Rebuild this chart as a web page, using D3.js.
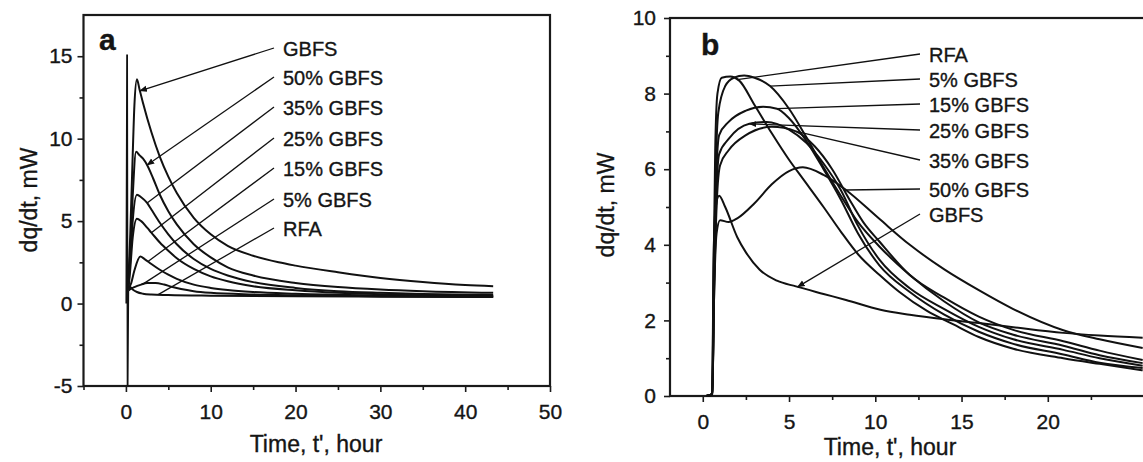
<!DOCTYPE html>
<html>
<head>
<meta charset="utf-8">
<script src="https://cdn.jsdelivr.net/npm/d3@7"></script>
<style>
  html, body { margin: 0; padding: 0; background: #fff; overflow: hidden; }
  svg { display: block; }
  text { font-family: "Liberation Sans", Arial, sans-serif; fill: #151515; stroke: #151515; stroke-width: 0.35px; }
</style>
</head>
<body>
<svg id="chart" width="1143" height="462"></svg>
<script>
// ---------- Panel a: heat flow, first 43 h ----------
const seriesA = ["GBFS", "50% GBFS", "35% GBFS", "25% GBFS", "15% GBFS", "5% GBFS", "RFA"];
const a_GBFS = [[0.3,1.5],[0.5,4],[0.8,9],[1.0,12],[1.3,13.6],[1.6,13.0],[2,12.2],[3,10.4],[4,8.9],[5,7.7],[6,6.7],[8,5.2],[10,4.2],[12,3.5],[15,2.9],[18,2.5],[20,2.3],[25,1.9],[30,1.55],[35,1.3],[40,1.12],[43.3,1.05]];
const a_50 = [[0.3,1.2],[0.5,3],[0.8,6.5],[1.2,9.2],[1.6,9.0],[2,8.8],[2.5,8.4],[3.2,7.6],[4,6.6],[5,5.6],[6,4.8],[8,3.6],[10,2.8],[12,2.2],[15,1.7],[20,1.25],[25,1.0],[30,0.85],[35,0.75],[43.3,0.65]];
const a_35 = [[0.3,1.0],[0.5,2.5],[0.8,5],[1.3,6.6],[1.8,6.45],[2.5,6.1],[3,5.7],[4,4.9],[5,4.2],[6,3.6],[8,2.7],[10,2.1],[12,1.7],[15,1.3],[20,0.95],[25,0.75],[30,0.65],[35,0.58],[43.3,0.52]];
const a_25 = [[0.3,0.9],[0.5,2],[0.8,4],[1.3,5.15],[1.8,5.0],[2.5,4.6],[3,4.3],[4,3.7],[5,3.2],[6,2.75],[8,2.1],[10,1.65],[12,1.35],[15,1.05],[20,0.8],[25,0.65],[30,0.57],[43.3,0.48]];
const a_15 = [[0.3,0.9],[0.6,1.2],[1.0,2.0],[1.7,2.85],[2.2,2.7],[3,2.4],[4,2.05],[5,1.75],[6,1.5],[8,1.15],[10,0.95],[12,0.82],[15,0.7],[20,0.6],[30,0.5],[43.3,0.45]];
const a_5 = [[0.3,0.8],[0.6,0.9],[1.0,1.0],[1.8,1.15],[2.5,1.25],[3.5,1.25],[4.5,1.15],[5.5,1.0],[6.5,0.88],[8,0.75],[10,0.65],[15,0.55],[20,0.5],[30,0.45],[43.3,0.4]];
const a_RFA = [[0.3,0.8],[0.5,1.0],[0.8,0.85],[1.3,0.7],[2,0.6],[3,0.55],[5,0.52],[10,0.48],[20,0.44],[30,0.42],[43.3,0.4]];
const a_wetting = [[0.05,0],[0.14,15.1],[0.2,-5],[0.28,0.8]];
const curvesA = [a_GBFS, a_50, a_35, a_25, a_15, a_5, a_RFA];
// time on each curve that its label points to
const pointerTimesA = [1.65, 2.5, 2.5, 3.0, 2.6, 2.0, 3.8];
const xTicksA = [0, 10, 20, 30, 40, 50];
const yTicksA = [-5, 0, 5, 10, 15];

// ---------- Panel b: heat flow, first 24 h ----------
const seriesB = ["RFA", "5% GBFS", "15% GBFS", "25% GBFS", "35% GBFS", "50% GBFS", "GBFS"];
const b_RFA = [[0.2,0],[0.55,0.05],[0.62,3],[0.72,6.5],[0.85,8.0],[1.1,8.42],[1.6,8.45],[2.1,8.35],[3,7.7],[4,6.95],[5,6.25],[5.8,5.75],[7,5.0],[8,4.35],[9,3.75],[10.25,3.2],[11.4,2.75],[13,2.25],[14.5,1.9],[16,1.56],[18,1.25],[20.9,1.0],[23,0.85],[25.5,0.68]];
const b_5 = [[0.2,0],[0.55,0.05],[0.63,3],[0.75,6],[0.9,7.5],[1.3,8.2],[1.8,8.42],[2.4,8.48],[3,8.42],[3.9,8.2],[5,7.6],[6,6.85],[7,6.05],[8,5.3],[9,4.6],[10.25,3.95],[12,3.2],[14,2.5],[16,1.95],[18,1.62],[20.9,1.33],[23,1.08],[25.5,0.87]];
const b_15 = [[0.2,0],[0.55,0.05],[0.65,3],[0.78,5.8],[0.95,6.9],[1.5,7.25],[2.5,7.55],[3.5,7.65],[4.3,7.6],[5,7.35],[6,6.75],[7,6.0],[8,5.2],[9,4.3],[10.25,3.45],[12,2.75],[14,2.15],[16,1.7],[18,1.38],[20.9,1.1],[23,0.88],[25.5,0.74]];
const b_25 = [[0.2,0],[0.55,0.05],[0.66,3],[0.8,5.5],[0.95,6.4],[1.5,6.8],[2.7,7.2],[3.7,7.25],[5,7.05],[6,6.7],[7,6.15],[8,5.45],[9,4.5],[10.25,3.6],[12,2.85],[14,2.3],[16,1.83],[18,1.5],[20.9,1.22],[23,1.0],[25.5,0.8]];
const b_35 = [[0.2,0],[0.55,0.05],[0.67,3],[0.82,5.2],[1.0,6.1],[1.5,6.5],[2.5,6.9],[4,7.12],[5.4,7.0],[6.5,6.6],[7.5,6.0],[8.5,5.2],[9.3,4.6],[10.25,4.08],[12,3.2],[14,2.6],[16,2.1],[18,1.75],[20.9,1.45],[23,1.2],[25.5,0.95]];
const b_50 = [[0.2,0],[0.55,0.05],[0.65,2.5],[0.8,4.3],[1.0,4.65],[1.5,4.6],[2,4.7],[3,5.1],[4,5.6],[5,5.95],[5.8,6.05],[7,5.85],[8.3,5.45],[10.2,4.7],[12,4.0],[14,3.35],[16,2.8],[18,2.3],[20.9,1.74],[23,1.5],[25.5,1.27]];
const b_GBFS = [[0.2,0],[0.55,0.05],[0.62,3.5],[0.75,5.0],[0.95,5.3],[1.3,5.0],[2,4.2],[2.5,3.8],[3.3,3.34],[4.3,3.05],[5.4,2.9],[7,2.7],[8.3,2.54],[10.3,2.28],[12,2.15],[14,2.03],[16,1.93],[18,1.82],[20.9,1.67],[23,1.6],[25.5,1.54]];
const curvesB = [b_RFA, b_5, b_15, b_25, b_35, b_50, b_GBFS];
const pointerTimesB = [2.0, 3.9, 4.3, 2.7, 5.4, 8.3, 5.5];
const xTicksB = [0, 5, 10, 15, 20];
const yTicksB = [0, 2, 4, 6, 8, 10];

const svg = d3.select("#chart");
const defs = svg.append("defs");
defs.append("marker")
  .attr("id", "head").attr("viewBox", "0 0 10 10").attr("refX", 9).attr("refY", 5)
  .attr("markerWidth", 6).attr("markerHeight", 6).attr("orient", "auto-start-reverse")
  .append("path").attr("d", "M0,1 L10,5 L0,9 z").attr("fill", "#111");

// value of a curve at time t (linear between stored points)
function valueAt(curve, t) {
  const i = d3.bisector(d => d[0]).left(curve, t);
  if (i <= 0) return curve[0][1];
  if (i >= curve.length) return curve[curve.length - 1][1];
  const [t0, v0] = curve[i - 1], [t1, v1] = curve[i];
  return v0 + (v1 - v0) * (t - t0) / (t1 - t0);
}

// plain hyphen for negatives, as on the printed axes
const plainInt = d => String(d);

function drawPanel(cfg) {
  const g = svg.append("g");
  const x = d3.scaleLinear().domain(cfg.xDomain).range([cfg.left, cfg.right]);
  const y = d3.scaleLinear().domain(cfg.yDomain).range([cfg.bottom, cfg.top]);

  // axes: major ticks with labels, minor ticks without
  g.append("g").attr("transform", `translate(0,${cfg.bottom})`)
    .call(d3.axisBottom(x).tickValues(cfg.xTicks).tickSize(6).tickPadding(12).tickFormat(plainInt));
  g.append("g").attr("transform", `translate(0,${cfg.bottom})`)
    .call(d3.axisBottom(x).tickValues(cfg.xMinor).tickSize(4).tickFormat(""));
  g.append("g").attr("transform", `translate(${cfg.left},0)`)
    .call(d3.axisLeft(y).tickValues(cfg.yTicks).tickSize(6).tickPadding(cfg.yPad).tickFormat(plainInt));
  g.append("g").attr("transform", `translate(${cfg.left},0)`)
    .call(d3.axisLeft(y).tickValues(cfg.yMinor).tickSize(4).tickFormat(""));
  g.selectAll(".domain").remove();
  g.selectAll(".tick line").attr("stroke", "#1a1a1a").attr("stroke-width", 1.6);
  g.selectAll(".tick text").attr("font-size", 21).attr("fill", "#151515")
    .attr("font-family", "'Liberation Sans', Arial, sans-serif");

  // frame
  g.append("rect").attr("x", cfg.left).attr("y", cfg.top)
    .attr("width", cfg.right - cfg.left).attr("height", cfg.bottom - cfg.top)
    .attr("fill", "none").attr("stroke", "#1a1a1a").attr("stroke-width", 2.2);

  const line = d3.line().x(d => x(d[0])).y(d => y(d[1])).curve(d3.curveMonotoneX);
  const plot = g.append("g");
  if (cfg.extra) {
    plot.append("path").datum(cfg.extra).attr("d", d3.line().x(d => x(d[0])).y(d => y(d[1])))
      .attr("fill", "none").attr("stroke", "#111").attr("stroke-width", 1.8);
  }
  plot.selectAll("path.curve").data(cfg.curves).join("path").attr("class", "curve")
    .attr("d", line).attr("fill", "none").attr("stroke", "#111")
    .attr("stroke-width", 2).attr("stroke-linejoin", "round");

  // labels and their pointer lines
  cfg.names.forEach((name, i) => {
    const ty = cfg.labelY[i];
    g.append("text").attr("x", cfg.labelX).attr("y", ty).attr("font-size", 20).text(name);
    const t = cfg.pointerTimes[i];
    const tx = x(t), tyv = y(valueAt(cfg.curves[i], t));
    g.append("line")
      .attr("x1", cfg.labelX - 9).attr("y1", ty - 8)
      .attr("x2", tx).attr("y2", tyv)
      .attr("stroke", "#111").attr("stroke-width", 1.3)
      .attr("marker-end", cfg.arrows[i] ? "url(#head)" : null);
  });

  // panel letter
  g.append("text").attr("x", cfg.letterX).attr("y", cfg.letterY)
    .attr("font-family", "'Liberation Serif', 'Times New Roman', serif")
    .attr("font-weight", "bold").attr("font-size", 30).attr("stroke-width", 0).text(cfg.letter);

  // axis titles
  g.append("text").attr("text-anchor", "middle")
    .attr("transform", `translate(${cfg.yTitleX},${cfg.yTitleY}) rotate(-90)`)
    .attr("font-size", 23).text("dq/dt, mW");
  g.append("text").attr("text-anchor", "middle").attr("x", cfg.xTitleX).attr("y", cfg.xTitleY)
    .attr("font-size", 23).text("Time, t', hour");
}

drawPanel({
  xDomain: [-5, 50], yDomain: [-5, 17.5],
  left: 83.5, right: 550, top: 15, bottom: 386,
  xTicks: xTicksA, xMinor: [-5, 5, 15, 25, 35, 45],
  yTicks: yTicksA, yMinor: [-2.5, 2.5, 7.5, 12.5], yPad: 5,
  curves: curvesA, names: seriesA, pointerTimes: pointerTimesA,
  extra: a_wetting,
  arrows: [true, true, false, false, false, false, false],
  labelX: 283, labelY: [56, 85, 115, 146, 176, 207, 236],
  letter: "a", letterX: 99, letterY: 50,
  yTitleX: 37, yTitleY: 200, xTitleX: 316, xTitleY: 452
});

drawPanel({
  xDomain: [-1.9, 26], yDomain: [0, 10],
  left: 670, right: 1151.3, top: 18, bottom: 396,
  xTicks: xTicksB, xMinor: [2.5, 7.5, 12.5, 17.5, 22.5],
  yTicks: yTicksB, yMinor: [1, 3, 5, 7, 9], yPad: 8,
  curves: curvesB, names: seriesB, pointerTimes: pointerTimesB,
  arrows: [false, false, false, true, false, false, true],
  labelX: 929, labelY: [62, 87, 112, 138, 168, 197, 222],
  letter: "b", letterX: 701, letterY: 55,
  yTitleX: 614, yTitleY: 205, xTitleX: 890, xTitleY: 455
});
</script>
</body>
</html>
